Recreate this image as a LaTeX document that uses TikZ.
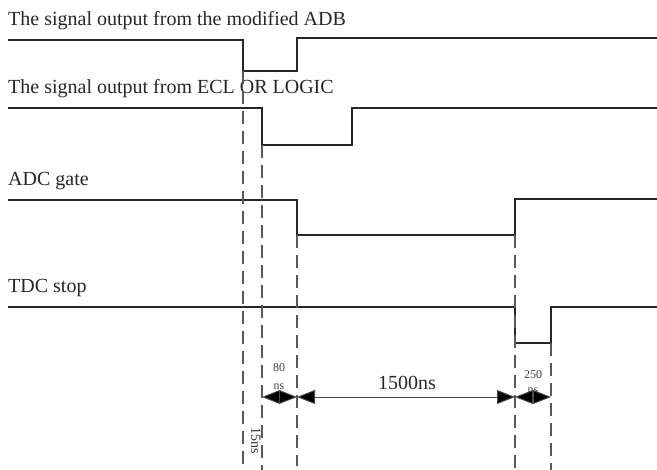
\documentclass[tikz,border=0pt]{standalone}
\usepackage{fontspec}
\setmainfont{Liberation Serif}
\usetikzlibrary{arrows.meta}
\begin{document}
\begin{tikzpicture}[x=1pt,y=-1pt,
    sig/.style={color=black!85,line width=1.1pt},
    guide/.style={color=black!65,line width=2pt,dash pattern=on 13pt off 7pt},
    dim/.style={color=black!70,line width=0.9pt,{Triangle[length=18pt,width=14pt,fill=black]}-{Triangle[length=18pt,width=14pt,fill=black]}},
    lbl/.style={anchor=base west,inner sep=0pt,text=black!85,font=\fontsize{20}{24}\selectfont},
    small/.style={inner sep=0pt,text=black!75,font=\fontsize{12}{14}\selectfont}]
    \useasboundingbox (0,0) rectangle (657,470);
    \node[lbl] (adb) at (8,26) {The signal output from the modified ADB};
    \node[lbl] (ecl) at (8,94) {The signal output from ECL OR LOGIC};
    \node[lbl] (adc) at (8,186) {ADC gate};
    \node[lbl] (tdc) at (8,293) {TDC stop};
    \draw[sig] (8,40)--(243,40)--(243,71)--(297,71)--(297,38)--(657,38);
    \draw[sig] (8,108)--(262,108)--(262,145)--(352,145)--(352,108)--(657,108);
    \draw[sig] (8,200)--(297,200)--(297,235)--(515,235)--(515,199)--(657,199);
    \draw[sig] (8,307)--(515,307)--(515,343)--(551,343)--(551,307)--(657,307);
    \draw[guide] (243,71)--(243,470);
    \draw[guide] (262,145)--(262,470);
    \draw[guide] (297,235)--(297,466);
    \draw[guide] (515,235)--(515,470);
    \draw[guide] (551,343)--(551,470);
    \coordinate (a1) at (262,397);
    \coordinate (a2) at (297,397);
    \coordinate (a3) at (515,397);
    \coordinate (a4) at (551,397);
    \node[small] (n80) at (279,368) {80};
    \node[small] (n80u) at (279,387) {ns};
    \node[small] (n250) at (533,375) {250};
    \node[small] (n250u) at (533,391) {ns};
    \node[anchor=base,inner sep=0pt,text=black!85,font=\fontsize{20}{24}\selectfont] (n1500) at (407,390) {1500ns};
    \node[inner sep=0pt,text=black!80,rotate=-90,font=\fontsize{14}{16}\selectfont] (n15) at (256,441) {15ns};
    \draw[dim] (a1)--(a2);
    \draw[dim] (a2)--(a3);
    \draw[dim] (a3)--(a4);
\end{tikzpicture}
\end{document}
